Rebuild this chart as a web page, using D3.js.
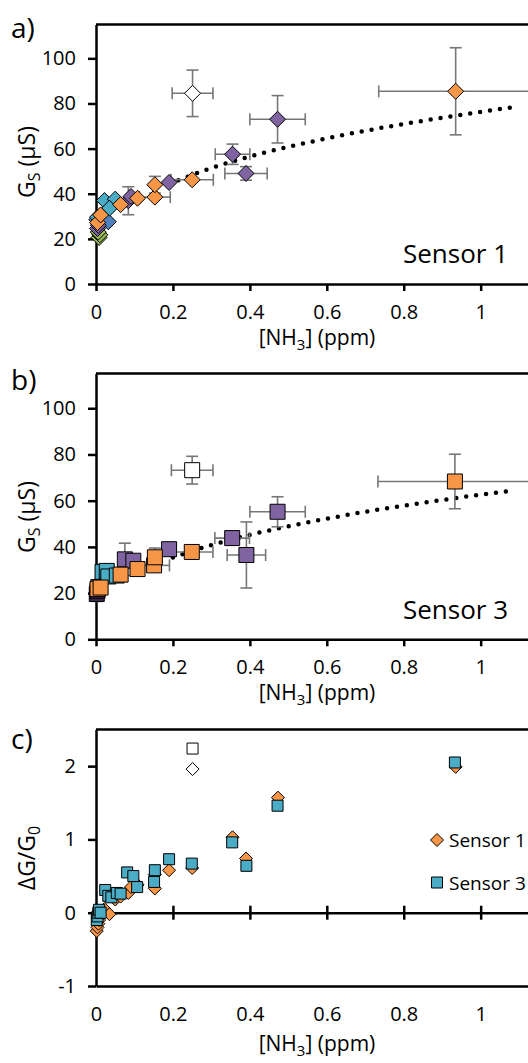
<!DOCTYPE html>
<html>
<head>
<meta charset="utf-8">
<script src="https://cdn.jsdelivr.net/npm/d3@7"></script>
<style>
  body { margin: 0; background: #fff; }
  svg { display: block; font-family: "Open Sans", sans-serif; }
</style>
</head>
<body>
<svg id="chart" width="528" height="1063"></svg>
<script>
// tick values
const concTicks = [0, 0.2, 0.4, 0.6, 0.8, 1];
const gTicks = [0, 20, 40, 60, 80, 100];
const deltaTicks = [-1, 0, 1, 2];

// exposure runs (one colour each in the original)
const runs = ["run1", "run2", "run3", "run4", "run5", "run6", "outlier"];

// panel a: sensor 1 conductance (uS) vs NH3 (ppm), dx/dy = error bar half widths
const sensor1G = [
  { run: "run1", ppm: 0.008, g: 20.6 }, { run: "run1", ppm: 0.010, g: 21.8 }, { run: "run1", ppm: 0.006, g: 23.0 },
  { run: "run2", ppm: 0.002, g: 28.5 }, { run: "run2", ppm: 0.032, g: 27.6 },
  { run: "run4", ppm: 0.004, g: 24.6 }, { run: "run4", ppm: 0.006, g: 26.0 },
  { run: "run3", ppm: 0.004, g: 29.6 }, { run: "run3", ppm: 0.022, g: 37.0 },
  { run: "run3", ppm: 0.050, g: 37.6 }, { run: "run3", ppm: 0.035, g: 33.6 },
  { run: "run6", ppm: 0.004, g: 27.2 }, { run: "run6", ppm: 0.012, g: 30.6 },
  { run: "run4", ppm: 0.084, g: 36.9, dy: 6.2 }, { run: "run4", ppm: 0.091, g: 38.8 },
  { run: "run4", ppm: 0.19, g: 45.0 }, { run: "run4", ppm: 0.355, g: 57.5, dx: 0.045, dy: 4.5 },
  { run: "run4", ppm: 0.39, g: 49.0, dx: 0.055, dy: 3 }, { run: "run4", ppm: 0.472, g: 73.0, dx: 0.072, dy: 10.5 },
  { run: "run6", ppm: 0.064, g: 35.2 }, { run: "run6", ppm: 0.108, g: 38.0 },
  { run: "run6", ppm: 0.153, g: 38.5, dx: 0.04 }, { run: "run6", ppm: 0.153, g: 44.0, dy: 3.7 },
  { run: "run6", ppm: 0.25, g: 46.2, dx: 0.055 }, { run: "run6", ppm: 0.935, g: 85.4, dx: 0.2, dy: 19.3 },
  { run: "outlier", ppm: 0.251, g: 84.5, dx: 0.053, dy: 10.3 }
];

// panel b: sensor 3 conductance
const sensor3G = [
  { run: "run5", ppm: 0.002, g: 19.6, dy: 3.2 }, { run: "run5", ppm: 0.004, g: 21.0 },
  { run: "run4", ppm: 0.006, g: 22.6 },
  { run: "run3", ppm: 0.017, g: 29.2 }, { run: "run3", ppm: 0.028, g: 29.6 },
  { run: "run3", ppm: 0.032, g: 27.2 }, { run: "run3", ppm: 0.054, g: 27.6 },
  { run: "run6", ppm: 0.004, g: 21.8 }, { run: "run6", ppm: 0.012, g: 22.4 },
  { run: "run4", ppm: 0.075, g: 34.6, dy: 7 }, { run: "run4", ppm: 0.097, g: 34.0 },
  { run: "run4", ppm: 0.19, g: 39.0 }, { run: "run4", ppm: 0.354, g: 43.8, dx: 0.045, dy: 3 },
  { run: "run4", ppm: 0.391, g: 36.5, dx: 0.05, dy: 14.3 }, { run: "run4", ppm: 0.472, g: 55.2, dx: 0.072, dy: 6.5 },
  { run: "run6", ppm: 0.064, g: 28.0 }, { run: "run6", ppm: 0.108, g: 30.4 },
  { run: "run6", ppm: 0.151, g: 32.0, dx: 0.04 }, { run: "run6", ppm: 0.153, g: 35.5, dy: 4 },
  { run: "run6", ppm: 0.249, g: 37.8, dx: 0.055 }, { run: "run6", ppm: 0.933, g: 68.3, dx: 0.2, dy: 11.8 },
  { run: "outlier", ppm: 0.25, g: 73.2, dx: 0.054, dy: 6 }
];

// dotted power trend lines
const trend1Ppm = [0.19, 0.3, 0.4, 0.5, 0.6, 0.7, 0.8, 0.9, 1.0, 1.09];
const trend1G = [44.3, 51.4, 56.5, 60.8, 64.5, 67.9, 70.9, 73.7, 76.3, 78.5];
const trend3Ppm = [0.2, 0.3, 0.4, 0.5, 0.6, 0.7, 0.8, 0.9, 1.0, 1.075];
const trend3G = [35.4, 40.8, 45.2, 48.9, 52.2, 55.2, 57.8, 60.3, 62.6, 64.2];

// panel c: relative response
const s1Ppm = [0.002, 0.004, 0.006, 0.008, 0.01, 0.012, 0.022, 0.035, 0.05, 0.064, 0.084, 0.091, 0.108, 0.153, 0.153, 0.19, 0.25, 0.355, 0.39, 0.473, 0.935];
const s1Delta = [-0.25, -0.2, -0.15, -0.1, -0.05, 0.0, 0.05, -0.02, 0.18, 0.22, 0.27, 0.35, 0.38, 0.33, 0.52, 0.58, 0.61, 1.03, 0.74, 1.57, 1.99];
const s3Ppm = [0.002, 0.004, 0.006, 0.008, 0.012, 0.024, 0.032, 0.04, 0.054, 0.064, 0.081, 0.097, 0.107, 0.151, 0.153, 0.19, 0.249, 0.354, 0.391, 0.472, 0.933];
const s3Delta = [-0.1, -0.05, 0.0, 0.04, 0.0, 0.31, 0.23, 0.21, 0.27, 0.26, 0.55, 0.5, 0.35, 0.42, 0.58, 0.73, 0.67, 0.96, 0.64, 1.46, 2.05];
const outlierPpm = 0.251;
const s1Outlier = 1.96;
const s3Outlier = 2.24;

const runColor = d3.scaleOrdinal()
  .domain(runs)
  .range(["#9bbb59", "#4f81bd", "#4bacc6", "#8064a2", "#3b2a4e", "#f79646", "#ffffff"]);

const svg = d3.select("#chart");
const x = d3.scaleLinear().domain([0, 1.2]).range([96, 557.6]);
const plainNum = d => (d < 0 ? "-" : "") + d3.format("~g")(Math.abs(d));

function diamond(r) { return `M0,${-r}L${r},0L0,${r}L${-r},0Z`; }

function styleAxis(sel, size) {
  sel.selectAll("path, line").attr("stroke", "#000").attr("stroke-width", 2.5);
  sel.selectAll("text").attr("font-size", size).attr("fill", "#000").attr("font-family", "Open Sans, sans-serif");
}

function xLabel(yPos) {
  const t = svg.append("text").attr("x", 317).attr("y", yPos).attr("text-anchor", "middle")
    .attr("font-size", 21).attr("fill", "#000");
  t.append("tspan").text("[NH");
  t.append("tspan").attr("font-size", 15).attr("dy", 5).text("3");
  t.append("tspan").attr("dy", -5).text("] (ppm)");
}

function panelLetter(txt, yPos) {
  svg.append("text").attr("x", 11).attr("y", yPos).attr("font-size", 28).attr("fill", "#000").text(txt);
}

function drawGPanel(cfg) {
  const y = d3.scaleLinear().domain([0, 115]).range([cfg.bottom, cfg.top]);
  const g = svg.append("g");

  g.append("line")
    .attr("x1", x(0)).attr("x2", x(1.2)).attr("y1", y(115)).attr("y2", y(115))
    .attr("stroke", "#000").attr("stroke-width", 2.5);

  g.append("g").attr("transform", `translate(0,${y(0)})`)
    .call(d3.axisBottom(x).tickValues(concTicks).tickFormat(plainNum)
      .tickSize(7).tickSizeOuter(0).tickPadding(14))
    .call(s => styleAxis(s, 20));

  g.append("g").attr("transform", `translate(${x(0)},0)`)
    .call(d3.axisLeft(y).tickValues(gTicks).tickFormat(plainNum).tickSize(8).tickSizeOuter(0).tickPadding(12))
    .call(s => styleAxis(s, 20));

  // trend line (round dots)
  g.append("path")
    .datum(d3.zip(cfg.trendX, cfg.trendY))
    .attr("d", d3.line().x(d => x(d[0])).y(d => y(d[1])).curve(d3.curveMonotoneX))
    .attr("fill", "none").attr("stroke", "#000").attr("stroke-width", 4.5)
    .attr("stroke-linecap", "round").attr("stroke-dasharray", "0 10");

  // error bars
  const eb = g.append("g").attr("stroke", "#777").attr("stroke-width", 1.6);
  cfg.data.filter(d => d.dx).forEach(d => {
    const yy = y(d.g), x0 = x(d.ppm - d.dx), x1 = x(d.ppm + d.dx);
    eb.append("line").attr("x1", x0).attr("x2", x1).attr("y1", yy).attr("y2", yy);
    eb.append("line").attr("x1", x0).attr("x2", x0).attr("y1", yy - 6).attr("y2", yy + 6);
    eb.append("line").attr("x1", x1).attr("x2", x1).attr("y1", yy - 6).attr("y2", yy + 6);
  });
  cfg.data.filter(d => d.dy).forEach(d => {
    const xx = x(d.ppm), y0 = y(d.g - d.dy), y1 = y(d.g + d.dy);
    eb.append("line").attr("x1", xx).attr("x2", xx).attr("y1", y0).attr("y2", y1);
    eb.append("line").attr("x1", xx - 6).attr("x2", xx + 6).attr("y1", y0).attr("y2", y0);
    eb.append("line").attr("x1", xx - 6).attr("x2", xx + 6).attr("y1", y1).attr("y2", y1);
  });

  // markers
  g.append("g").selectAll("path").data(cfg.data).join("path")
    .attr("transform", d => `translate(${x(d.ppm)},${y(d.g)})`)
    .attr("d", cfg.shape === "diamond" ? diamond(8) : "M-7.5,-7.5H7.5V7.5H-7.5Z")
    .attr("fill", d => runColor(d.run))
    .attr("stroke", "#000").attr("stroke-width", 1);

  // y label
  const yl = svg.append("text")
    .attr("transform", `translate(35,${cfg.labelY}) rotate(-90)`)
    .attr("text-anchor", "middle").attr("font-size", 23).attr("fill", "#000");
  yl.append("tspan").text("G");
  yl.append("tspan").attr("font-size", 16).attr("dy", 5).text("S");
  yl.append("tspan").attr("dy", -5).text(" (\u00b5S)");

  svg.append("text").attr("x", 403).attr("y", cfg.sensorY)
    .attr("font-size", 26).attr("fill", "#000").text(cfg.sensor);
}

// ---- panel a
panelLetter("a)", 38);
drawGPanel({ top: 24.5, bottom: 284, data: sensor1G, shape: "diamond",
  trendX: trend1Ppm, trendY: trend1G, labelY: 162, sensor: "Sensor 1", sensorY: 263 });
xLabel(345);

// ---- panel b
panelLetter("b)", 390);
drawGPanel({ top: 373.6, bottom: 639.3, data: sensor3G, shape: "square",
  trendX: trend3Ppm, trendY: trend3G, labelY: 517, sensor: "Sensor 3", sensorY: 619 });
xLabel(700);

// ---- panel c
panelLetter("c)", 749);
const yc = d3.scaleLinear().domain([-1, 2.5]).range([986, 729.5]);
const gc = svg.append("g");

gc.append("line")
  .attr("x1", x(0)).attr("x2", x(1.2)).attr("y1", yc(2.5)).attr("y2", yc(2.5))
  .attr("stroke", "#000").attr("stroke-width", 2.5);

// bottom border carrying the tick labels
gc.append("g").attr("transform", `translate(0,${yc(-1)})`)
  .call(d3.axisBottom(x).tickValues(concTicks).tickFormat(plainNum)
    .tickSize(0).tickSizeOuter(0).tickPadding(21))
  .call(s => styleAxis(s, 20));

// zero line with crossing ticks
const zeroAxis = gc.append("g").attr("transform", `translate(0,${yc(0)})`)
  .call(d3.axisBottom(x).tickValues(concTicks.slice(1)).tickFormat("").tickSize(7).tickSizeOuter(0))
  .call(s => styleAxis(s, 20));
zeroAxis.selectAll(".tick line").attr("y1", -7);

gc.append("g").attr("transform", `translate(${x(0)},0)`)
  .call(d3.axisLeft(yc).tickValues(deltaTicks).tickFormat(plainNum).tickSize(8).tickSizeOuter(0).tickPadding(12))
  .call(s => styleAxis(s, 20));

gc.append("g").selectAll("path").data(d3.zip(s1Ppm, s1Delta)).join("path")
  .attr("transform", d => `translate(${x(d[0])},${yc(d[1])})`)
  .attr("d", diamond(6.5)).attr("fill", "#f79646").attr("stroke", "#000").attr("stroke-width", 1);
gc.append("g").selectAll("path").data(d3.zip(s3Ppm, s3Delta)).join("path")
  .attr("transform", d => `translate(${x(d[0])},${yc(d[1])})`)
  .attr("d", "M-5.5,-5.5H5.5V5.5H-5.5Z").attr("fill", "#4bacc6").attr("stroke", "#000").attr("stroke-width", 1);

gc.append("path").attr("transform", `translate(${x(outlierPpm)},${yc(s1Outlier)})`)
  .attr("d", diamond(6.5)).attr("fill", "#fff").attr("stroke", "#000").attr("stroke-width", 1);
gc.append("path").attr("transform", `translate(${x(outlierPpm)},${yc(s3Outlier)})`)
  .attr("d", "M-5.5,-5.5H5.5V5.5H-5.5Z").attr("fill", "#fff").attr("stroke", "#000").attr("stroke-width", 1);

// legend
const legend = [{ name: "Sensor 1", color: "#f79646", shape: diamond(6.5), y: 840 },
                { name: "Sensor 3", color: "#4bacc6", shape: "M-5.5,-5.5H5.5V5.5H-5.5Z", y: 882.5 }];
legend.forEach(l => {
  gc.append("path").attr("transform", `translate(437,${l.y})`).attr("d", l.shape)
    .attr("fill", l.color).attr("stroke", "#000").attr("stroke-width", 1);
  gc.append("text").attr("x", 449).attr("y", l.y + 7).attr("font-size", 19).attr("fill", "#000").text(l.name);
});

const ylc = svg.append("text")
  .attr("transform", `translate(35,858) rotate(-90)`)
  .attr("text-anchor", "middle").attr("font-size", 23).attr("fill", "#000");
ylc.append("tspan").text("\u0394G/G");
ylc.append("tspan").attr("font-size", 16).attr("dy", 5).text("0");

xLabel(1051);
</script>
</body>
</html>
